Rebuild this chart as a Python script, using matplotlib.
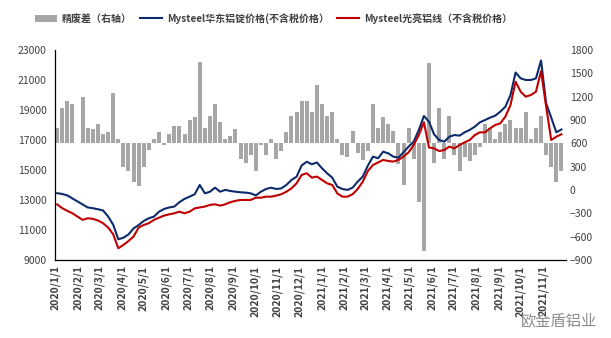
import numpy as np
import pandas as pd
import matplotlib
matplotlib.use("Agg")
from matplotlib import pyplot as plt

plt.rcParams['font.family'] = ['Noto Sans CJK SC', 'DejaVu Sans']

# weekly samples (Fridays) from 2020-01-03 to 2021-11-26
dates = pd.date_range("2020-01-03", "2021-11-26", freq="7D")

# Mysteel华东铝锭价格 (left axis)
ingot = [13450, 13400, 13300, 13100, 12900, 12700, 12500, 12450, 12380, 12300,
         11900, 11350, 10380, 10480, 10700, 11100, 11330, 11600, 11780, 11890,
         12220, 12400, 12500, 12560, 12850, 13070, 13220, 13380, 14000, 13440,
         13550, 13820, 13550, 13670, 13600, 13550, 13510, 13490, 13440, 13300,
         13550, 13730, 13820, 13730, 13770, 14000, 14330, 14550, 15300, 15550,
         15380, 15500, 15110, 14780, 14490, 13890, 13730, 13670, 13820, 14220,
         14560, 15290, 15890, 15780, 16220, 16110, 15890, 15820, 16180, 16560,
         16890, 17670, 18600, 18220, 17380, 17000, 16890, 17220, 17330, 17290,
         17510, 17670, 17890, 18180, 18330, 18490, 18620, 18890, 19220, 20000,
         21500, 21110, 21000, 21000, 21110, 22300, 19440, 18490, 17510, 17700]

# Mysteel光亮铝线 (left axis)
wire = [12700, 12450, 12270, 12110, 11890, 11670, 11780, 11740, 11630, 11450,
        11160, 10710, 9780, 10000, 10260, 10560, 11160, 11330, 11450, 11670,
        11820, 11960, 12040, 12110, 12220, 12110, 12220, 12440, 12500, 12560,
        12670, 12710, 12620, 12710, 12850, 12940, 13000, 13000, 13000, 13150,
        13150, 13220, 13220, 13290, 13380, 13550, 13770, 14110, 14670, 14780,
        14490, 14560, 14330, 14110, 14000, 13440, 13220, 13220, 13380, 13730,
        14220, 14930, 15330, 15500, 15670, 15600, 15560, 15670, 15890, 16180,
        16670, 17330, 18180, 16500, 16440, 16260, 16330, 16560, 16440, 16670,
        16840, 17000, 17330, 17510, 17510, 17780, 18000, 18110, 18560, 19330,
        20890, 20220, 19890, 20000, 20220, 21600, 19220, 17000, 17220, 17380]

# 精废差 (right axis)
spread = [800, 1050, 1150, 1100, np.nan, 1200, 800, 780, 850, 720,
          750, 1250, 650, 300, 250, 100, 50, 300, 520, 650,
          750, 580, 720, 820, 820, 720, 900, 940, 1650, 800,
          950, 1100, 880, 650, 700, 780, 400, 350, 450, 250,
          580, 450, 650, 400, 500, 750, 950, 1000, 1150, 1150,
          1000, 1350, 1100, 950, 1000, 650, 450, 420, 760, 480,
          380, 500, 1100, 800, 940, 850, 760, 330, 60, 800,
          400, -150, -790, 1630, 350, 1050, 400, 950, 450, 250,
          420, 370, 450, 550, 850, 800, 650, 750, 850, 900,
          800, 800, 1000, 650, 800, 950, 450, 300, 100, 250]

spread_base = 600

fig = plt.figure(figsize=(6.11, 3.38), dpi=100)
ax = fig.add_axes([0.090, 0.231, 0.836, 0.621])
ax2 = ax.twinx()

spread = np.array(spread, dtype=float)
ax2.bar(dates, spread - spread_base, bottom=spread_base, width=5.5,
        color='#A6A6A6', linewidth=0, label='精废差（右轴）')
ax.plot(dates, ingot, color='#0D2B6B', lw=1.5, label='Mysteel华东铝锭价格(不含税价格）')
ax.plot(dates, wire, color='#C00000', lw=1.5, label='Mysteel光亮铝线（不含税价格）')

# lines on top of the bars
ax.set_zorder(ax2.get_zorder() + 1)
ax.patch.set_visible(False)

ax.set_xlim(pd.Timestamp("2019-12-31"), pd.Timestamp("2021-12-02"))
ax.set_ylim(9000, 23000)
ax.set_yticks(range(9000, 23001, 2000))
ax2.set_ylim(-900, 1800)
ax2.set_yticks(range(-900, 1801, 300))

months = pd.date_range("2020-01-01", "2021-11-01", freq="MS")
ax.set_xticks(months)
ax.set_xticklabels([f"{d.year}/{d.month}/1" for d in months], rotation=90,
                   fontsize=7, fontweight='bold', color='#404040', va='top')

for a in (ax, ax2):
    a.tick_params(length=0, labelsize=7.5, labelcolor='#404040')
    for s in ('top', 'right', 'left', 'bottom'):
        a.spines[s].set_visible(False)
ax.spines['left'].set_visible(True)
ax.spines['bottom'].set_visible(True)
ax.spines['left'].set_linewidth(0.9)
ax.spines['bottom'].set_linewidth(0.9)
ax.tick_params(axis='y', pad=6)
ax.tick_params(axis='x', pad=4)
ax2.tick_params(axis='y', pad=3)

h2, l2 = ax2.get_legend_handles_labels()
h1, l1 = ax.get_legend_handles_labels()
leg = fig.legend(h2 + h1, l2 + l1, loc='center', bbox_to_anchor=(0.448, 0.945),
                 ncol=3, frameon=False, fontsize=7.2, handlelength=2.2,
                 handleheight=0.7, columnspacing=0.8, handletextpad=0.5)
for t in leg.get_texts():
    t.set_color('#404040')
    t.set_fontweight('bold')

fig.text(0.915, 0.05, '欧金盾铝业', fontsize=11, color='#8C8C8C', ha='center', va='center')

fig.savefig("out.png", dpi=100)
